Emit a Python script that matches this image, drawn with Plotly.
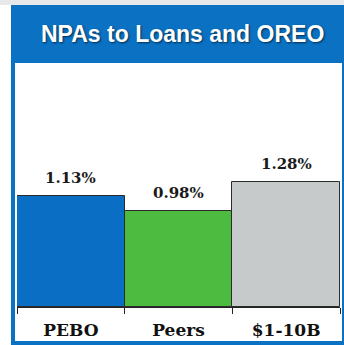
import plotly.graph_objects as go

# Chart data
categories = ["PEBO", "Peers", "$1-10B"]
values = [1.13, 0.98, 1.28]
bar_colors = ["#0a6fc4", "#4dbb3f", "#c7cacb"]
title_text = "NPAs to Loans and OREO"

W, H = 344, 345


def px_x(p):
    return p / W


def px_y(p):
    return 1 - p / H


fig = go.Figure()
fig.add_trace(go.Bar(
    x=categories,
    y=values,
    marker=dict(color=bar_colors, line=dict(color="#2b2b2b", width=1)),
    width=1.0,
    hoverinfo="skip",
))

# Value labels above each bar
annotations = []
for c, v in zip(categories, values):
    annotations.append(dict(
        x=c, y=v, xref="x", yref="y",
        text=f"<b>{v:.2f}%</b>", showarrow=False,
        yanchor="bottom", yshift=7,
        font=dict(family="DejaVu Serif", size=15, color="#1a1a1a"),
    ))

# Header title
annotations.append(dict(
    x=px_x(183), y=px_y(34), xref="paper", yref="paper",
    text=f"<b>{title_text}</b>", showarrow=False,
    xanchor="center", yanchor="middle",
    font=dict(family="Liberation Sans", size=23, color="white",
              shadow="1px 1px 2px rgba(0,0,0,0.6)"),
))

shapes = [
    # light strip at the top
    dict(type="rect", xref="paper", yref="paper", x0=0, x1=1,
         y0=px_y(5), y1=1, fillcolor="#e6e8ea", line_width=0, layer="below"),
    # blue panel frame
    dict(type="rect", xref="paper", yref="paper", x0=px_x(11), x1=1,
         y0=0, y1=px_y(5), fillcolor="#0a71c3", line_width=0, layer="below"),
    # white interior
    dict(type="rect", xref="paper", yref="paper", x0=px_x(15), x1=px_x(342),
         y0=px_y(341), y1=px_y(63), fillcolor="white", line_width=0, layer="below"),
]

fig.update_layout(
    width=W, height=H,
    margin=dict(l=0, r=0, t=0, b=0),
    paper_bgcolor="white",
    plot_bgcolor="rgba(0,0,0,0)",
    bargap=0,
    showlegend=False,
    shapes=shapes,
    annotations=annotations,
    xaxis=dict(
        domain=[px_x(17), px_x(340)],
        range=[-0.5, 2.5],
        showline=True, linecolor="#222222", linewidth=1,
        ticks="outside", tickson="boundaries", ticklen=6,
        tickcolor="#222222", tickwidth=1,
        tickfont=dict(family="DejaVu Serif", size=17, color="#111111",
                      weight="bold"),
        ticklabelstandoff=8,
        showgrid=False, zeroline=False, fixedrange=True,
    ),
    yaxis=dict(
        domain=[px_y(307), px_y(63)],
        range=[0, 2.49],
        visible=False, showgrid=False, zeroline=False, fixedrange=True,
    ),
)

fig.write_html("out.html")
